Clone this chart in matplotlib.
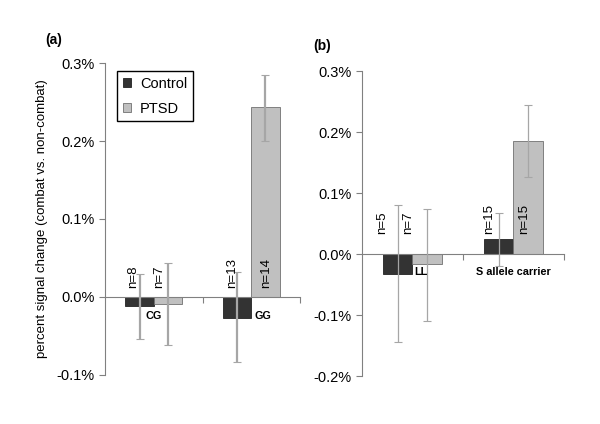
"""Two-panel bar chart: percent signal change by genotype, Control vs PTSD."""

import matplotlib

matplotlib.use("Agg")

import matplotlib.pyplot as plt
import numpy as np
from matplotlib.ticker import FuncFormatter, MultipleLocator

plt.rcParams["font.family"] = ["Liberation Sans", "DejaVu Sans"]

CONTROL = "#333333"
PTSD = "#c0c0c0"
AXIS = "#808080"
ERR = "#a6a6a6"

groups = ["Control", "PTSD"]

# panel (a)
a_categories = ["CG", "GG"]
a_control = [-0.012, -0.027]
a_ptsd = [-0.009, 0.243]
a_control_hi = [0.029, 0.032]
a_control_lo = [-0.054, -0.083]
a_ptsd_hi = [0.044, 0.285]
a_ptsd_lo = [-0.062, 0.200]
a_n_control = ["n=8", "n=13"]
a_n_ptsd = ["n=7", "n=14"]

# panel (b)
b_categories = ["LL", "S allele carrier"]
b_control = [-0.033, 0.025]
b_ptsd = [-0.017, 0.185]
b_control_hi = [0.081, 0.068]
b_control_lo = [-0.145, -0.019]
b_ptsd_hi = [0.074, 0.244]
b_ptsd_lo = [-0.110, 0.126]
b_n_control = ["n=5", "n=15"]
b_n_ptsd = ["n=7", "n=15"]


def _pct_tick(value, _pos):
    return f"{value:.1f}%"


def _panel(ax, categories, control, ptsd, c_hi, c_lo, p_hi, p_lo,
           n_control, n_ptsd, ylim, n_y, n_dx, cat_dx, cat_y, err_lw):
    x = np.arange(len(categories))
    width = 0.29
    xc = x - width / 2
    xp = x + width / 2
    ax.bar(xc, control, width=width, color=CONTROL, edgecolor="#222222",
           linewidth=0.6, label=groups[0], zorder=2)
    ax.bar(xp, ptsd, width=width, color=PTSD, edgecolor="#707070",
           linewidth=0.6, label=groups[1], zorder=2)

    for xs, vals, hi, lo in ((xc, control, c_hi, c_lo), (xp, ptsd, p_hi, p_lo)):
        vals = np.array(vals)
        yerr = [vals - np.array(lo), np.array(hi) - vals]
        ax.errorbar(xs, vals, yerr=yerr, fmt="none", ecolor=ERR,
                    elinewidth=err_lw, capsize=3, capthick=0.8, zorder=3)

    for i in range(len(categories)):
        ax.text(xc[i] + n_dx[0][i], n_y, n_control[i], rotation=90,
                ha="center", va="bottom", fontsize=9.5, zorder=4)
        ax.text(xp[i] + n_dx[1][i], n_y, n_ptsd[i], rotation=90,
                ha="center", va="bottom", fontsize=9.5, zorder=4)
        ax.text(x[i] + cat_dx[i], cat_y, categories[i], ha="center",
                va="center", fontsize=7.8, fontweight="bold", zorder=5)

    ax.set_xlim(-0.5, len(categories) - 0.5)
    ax.set_ylim(*ylim)
    ax.yaxis.set_major_locator(MultipleLocator(0.1))
    ax.yaxis.set_major_formatter(FuncFormatter(_pct_tick))
    ax.set_xticks(x + 0.5)
    ax.set_xticklabels([])
    ax.spines["top"].set_visible(False)
    ax.spines["right"].set_visible(False)
    ax.spines["bottom"].set_position(("data", 0))
    ax.spines["left"].set_color(AXIS)
    ax.spines["bottom"].set_color(AXIS)
    ax.tick_params(axis="y", colors=AXIS, labelcolor="black", labelsize=10.5,
                   length=4, width=0.8)
    ax.tick_params(axis="x", colors=AXIS, length=4, width=0.8, direction="out")


fig = plt.figure(figsize=(6.0, 4.24), dpi=100)
ax_a = fig.add_axes([0.175, 0.1156, 0.325, 0.7358])
ax_b = fig.add_axes([0.603, 0.1132, 0.337, 0.7193])

_panel(ax_a, a_categories, a_control, a_ptsd, a_control_hi, a_control_lo,
       a_ptsd_hi, a_ptsd_lo, a_n_control, a_n_ptsd,
       ylim=(-0.1, 0.3), n_y=0.012,
       n_dx=[[-0.07, -0.05], [-0.09, 0.01]], cat_dx=[0.0, 0.12],
       cat_y=-0.024, err_lw=1.6)
_panel(ax_b, b_categories, b_control, b_ptsd, b_control_hi, b_control_lo,
       b_ptsd_hi, b_ptsd_lo, b_n_control, b_n_ptsd,
       ylim=(-0.2, 0.3), n_y=0.032,
       n_dx=[[-0.155, -0.10], [-0.185, -0.036]], cat_dx=[0.08, 0.0],
       cat_y=-0.030, err_lw=0.9)

ax_a.set_ylabel("percent signal change (combat vs. non-combat)", fontsize=9.5,
                labelpad=6)
ax_a.legend(loc="upper left", bbox_to_anchor=(0.06, 0.975), fontsize=10.5,
            frameon=True, fancybox=False, edgecolor="black", framealpha=1,
            handlelength=0.6, handleheight=0.6, handletextpad=0.6,
            borderpad=0.4, labelspacing=0.75, borderaxespad=0)

fig.text(0.076, 0.905, "(a)", fontsize=10, fontweight="bold", ha="left", va="center")
fig.text(0.522, 0.892, "(b)", fontsize=10, fontweight="bold", ha="left", va="center")

fig.savefig("out.png", dpi=100)
